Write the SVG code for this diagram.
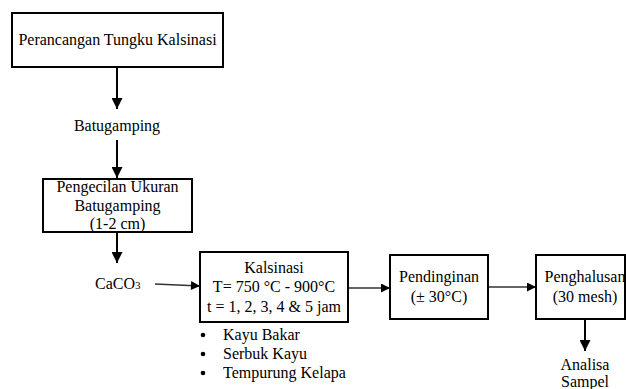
<svg xmlns="http://www.w3.org/2000/svg" width="626" height="389" viewBox="0 0 626 389">
<style>
.box{fill:#fff;stroke:#000;stroke-width:2}
.t{font-family:'Liberation Serif',serif;font-size:16px;fill:#000}
.c{text-anchor:middle}
.v{stroke:#000;stroke-width:2;fill:none}
.h{stroke:#333;stroke-width:1.5;fill:none}
</style>
<defs>
<marker id="ah" viewBox="0 0 10 10" refX="10" refY="5" markerWidth="13" markerHeight="9" markerUnits="userSpaceOnUse" orient="auto">
<path d="M0,0 L10,5 L0,10 z" fill="#000"/>
</marker>
<marker id="ahv" viewBox="0 0 10 10" refX="10" refY="5" markerWidth="12" markerHeight="11" markerUnits="userSpaceOnUse" orient="auto">
<path d="M0,0 L10,5 L0,10 z" fill="#000"/>
</marker>
</defs>
<rect width="626" height="389" fill="#fff"/>
<g id="connectors">
<path class="v" d="M117,67 V109" marker-end="url(#ahv)"/>
<path class="v" d="M117,140 V178" marker-end="url(#ahv)"/>
<path class="v" d="M117,232 V263" marker-end="url(#ahv)"/>
<path class="h" d="M155,284 L200,286" marker-end="url(#ah)"/>
<path class="h" d="M348,288 H390" marker-end="url(#ah)"/>
<path class="h" d="M488,287 H536" marker-end="url(#ah)"/>
<path class="v" d="M585,319 V351" marker-end="url(#ahv)"/>
</g>
<g id="n1">
<rect class="box" x="12" y="13" width="211" height="54"/>
<text class="t c" x="117.5" y="45">Perancangan Tungku Kalsinasi</text>
</g>
<g id="n2">
<text class="t c" x="117" y="131">Batugamping</text>
</g>
<g id="n3">
<rect class="box" x="43" y="179" width="149" height="53"/>
<text class="t c" x="117.5" y="192">Pengecilan Ukuran</text>
<text class="t c" x="117.5" y="211">Batugamping</text>
<text class="t c" x="117.5" y="229">(1-2 cm)</text>
</g>
<g id="n4">
<text class="t" x="95" y="289">CaCO<tspan font-size="11">3</tspan></text>
</g>
<g id="n5">
<rect class="box" x="200" y="252" width="148" height="70"/>
<text class="t c" x="274" y="273">Kalsinasi</text>
<text class="t c" x="274" y="292">T= 750 °C - 900°C</text>
<text class="t c" x="274" y="312">t = 1, 2, 3, 4 &amp; 5 jam</text>
</g>
<g id="n6">
<circle cx="203" cy="335" r="2.3" fill="#000"/>
<circle cx="203" cy="354" r="2.3" fill="#000"/>
<circle cx="203" cy="373" r="2.3" fill="#000"/>
<text class="t" x="223" y="340">Kayu Bakar</text>
<text class="t" x="223" y="359">Serbuk Kayu</text>
<text class="t" x="223" y="378">Tempurung Kelapa</text>
</g>
<g id="n7">
<rect class="box" x="390" y="255" width="98" height="64"/>
<text class="t c" x="439" y="282">Pendinginan</text>
<text class="t c" x="439" y="302">(± 30°C)</text>
</g>
<g id="n8">
<rect class="box" x="536" y="255" width="89" height="64"/>
<text class="t c" x="585" y="282">Penghalusan</text>
<text class="t c" x="585" y="302">(30 mesh)</text>
</g>
<g id="n9">
<text class="t c" x="585" y="370">Analisa</text>
<text class="t c" x="585" y="387">Sampel</text>
</g>
</svg>
